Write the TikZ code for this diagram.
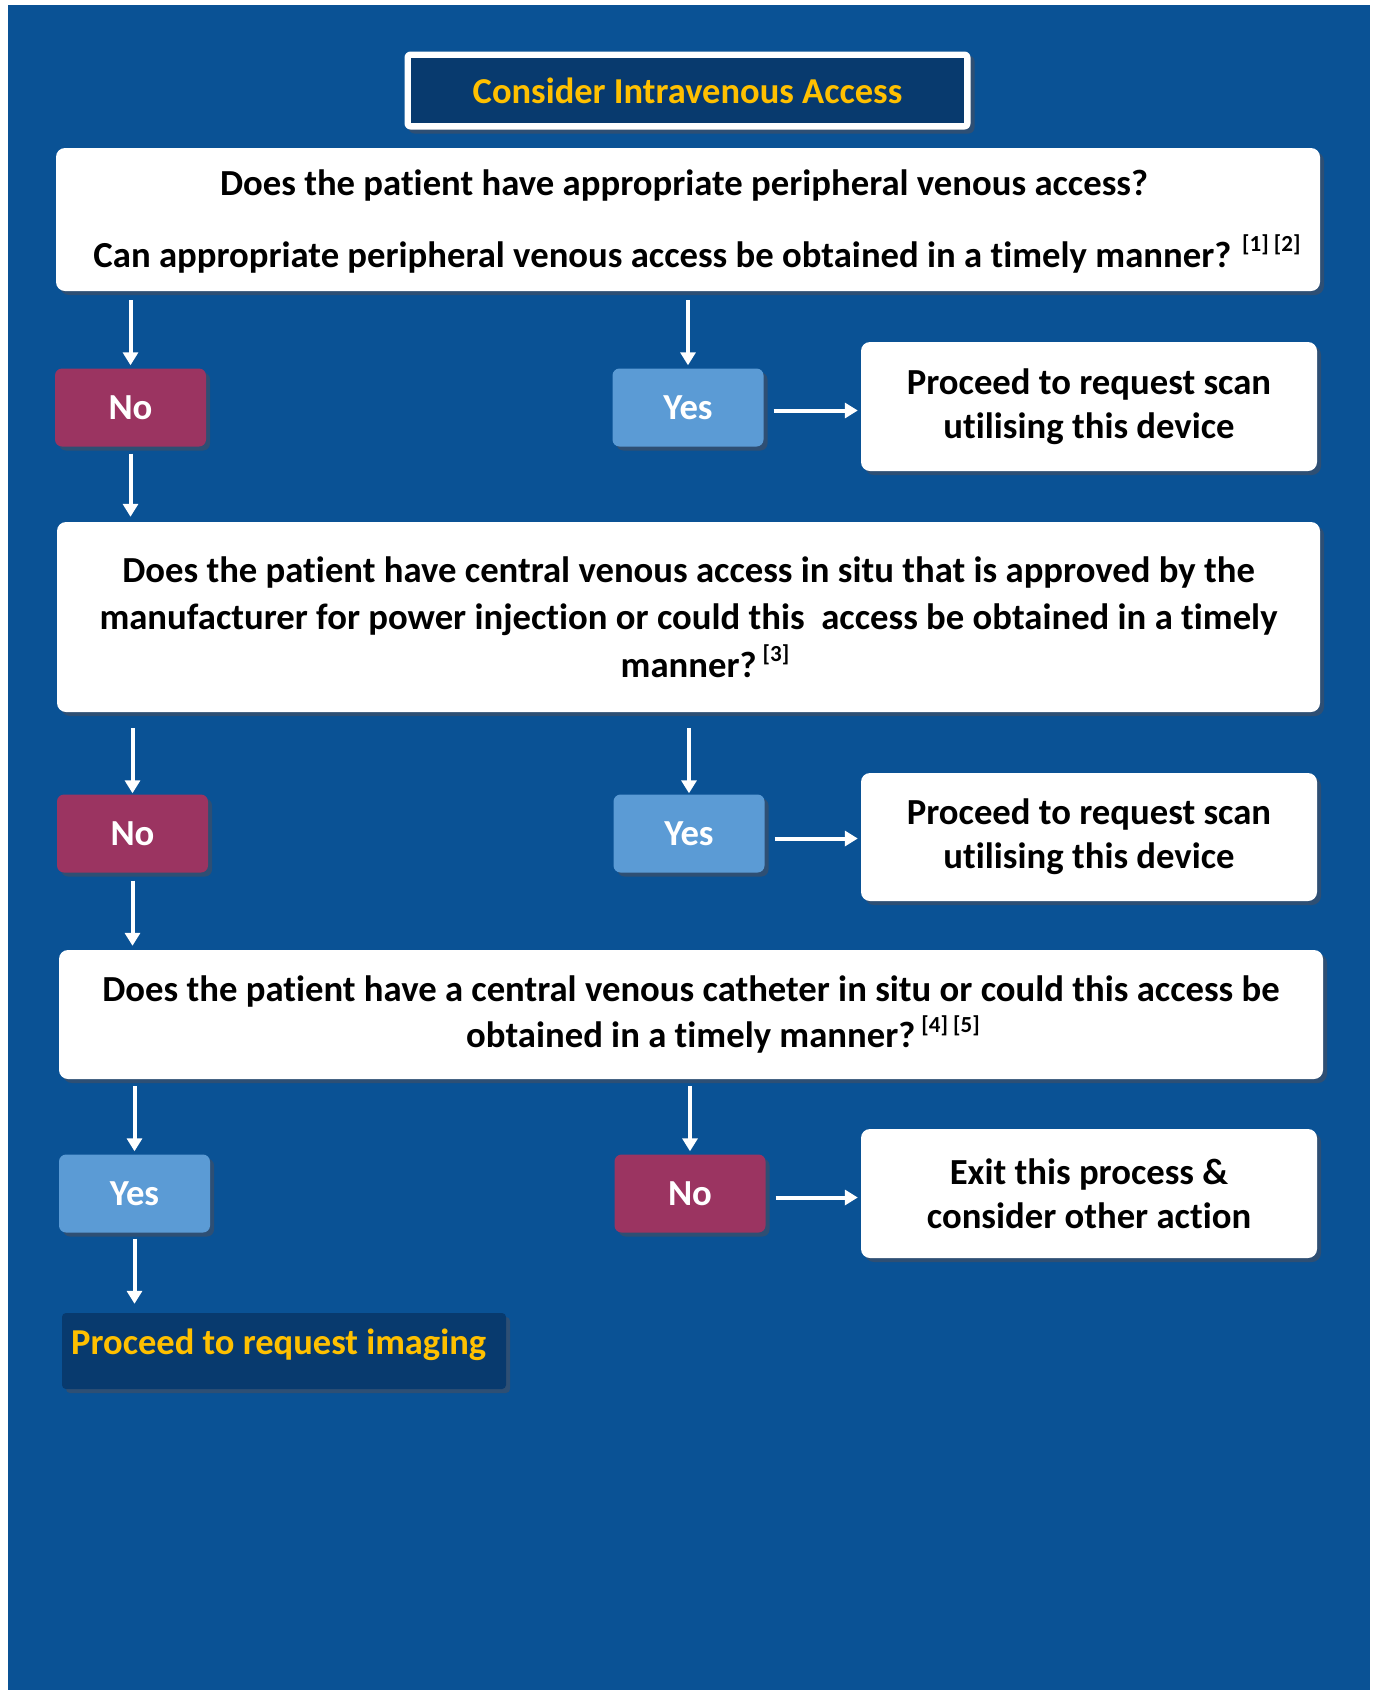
\documentclass[tikz,border=0pt]{standalone}
\usepackage{fontspec}
\setmainfont{Carlito}[Ligatures={NoCommon}]
\usetikzlibrary{arrows.meta,shadows,calc}

\definecolor{bgblue}{HTML}{0A5295}
\definecolor{navy}{HTML}{083A6E}
\definecolor{plum}{HTML}{9B3461}
\definecolor{skyblue}{HTML}{5B9BD5}
\definecolor{shade}{HTML}{2E4F74}
\definecolor{gold}{HTML}{FFC000}

\tikzset{
  x=1pt, y=-1pt,
  boxshadow/.style={drop shadow={shadow xshift=4pt, shadow yshift=-4pt, fill=shade, opacity=1}},
  question/.style={fill=white, rounded corners=9pt, boxshadow, inner sep=0pt,
    align=center, font=\fontsize{36.7}{44}\selectfont\bfseries, text=black},
  answer/.style={rounded corners=7pt, boxshadow, inner sep=0pt,
    minimum width=151pt, minimum height=78pt, text=white,
    font=\fontsize{36.7}{44}\selectfont\bfseries},
  nobox/.style={answer, fill=plum},
  yesbox/.style={answer, fill=skyblue},
  outcome/.style={question, minimum width=456pt, minimum height=129pt,
    font=\fontsize{36.7}{44}\selectfont\bfseries},
  flow/.style={draw=white, line width=4pt,
    -{Triangle[width=15pt,length=13pt]}},
}
\newcommand{\refmark}[1]{\raisebox{0.42em}{\fontsize{23}{23}\selectfont #1}}

\begin{document}
\begin{tikzpicture}
% page and blue panel
\fill[white] (0,0) rectangle (1375,1690);
\fill[bgblue] (8,5) rectangle (1370,1690);

% heading
\node[fill=white, rounded corners=6pt, boxshadow, minimum width=566pt, minimum height=78pt]
  (title) at (687.5,90.5) {};
\node[fill=navy, minimum width=553pt, minimum height=65pt, text=gold,
  font=\fontsize{36.5}{44}\selectfont\bfseries] (titletext) at (title.center) {Consider Intravenous Access};

% first question
\node[question, minimum width=1264pt, minimum height=143pt] (q1) at (688,219.5) {};
\node[font=\fontsize{36.7}{44}\selectfont\bfseries] (q1a) at (684,186) {Does the patient have appropriate peripheral venous access?};
\node[font=\fontsize{36.7}{44}\selectfont\bfseries] (q1b) at (697,254) {Can appropriate peripheral venous access be obtained in a timely manner? \refmark{[1] [2]}};

\node[nobox] (no1) at (130.5,407.5) {No};
\node[yesbox] (yes1) at (688,407.5) {Yes};
\node[outcome] (p1) at (1089,406.5) {Proceed to request scan\\utilising this device};

% second question
\node[question, minimum width=1263pt, minimum height=190pt,
  font=\fontsize{36.7}{47.5}\selectfont\bfseries] (q2) at (688.5,617)
  {Does the patient have central venous access in situ that is approved by the\\
   manufacturer for power injection or could this\ \ access be obtained in a timely\\
   \hspace*{33pt}manner?\,\refmark{[3]}};

\node[nobox] (no2) at (132.5,833.5) {No};
\node[yesbox] (yes2) at (689,833.5) {Yes};
\node[outcome, minimum height=128pt] (p2) at (1089,837) {Proceed to request scan\\utilising this device};

% third question
\node[question, minimum width=1264pt, minimum height=129pt,
  font=\fontsize{36.7}{46}\selectfont\bfseries] (q3) at (691,1014.5)
  {Does the patient have a central venous catheter in situ or could this access be\\
   \hspace*{64pt}obtained in a timely manner?\,\refmark{[4] [5]}};

\node[yesbox] (yes3) at (134.5,1193.5) {Yes};
\node[nobox] (no3) at (690,1193.5) {No};
\node[outcome] (exit) at (1089,1193.5) {Exit this process \&\\consider other action};

% final step
\node[fill=navy, rounded corners=4pt, boxshadow, minimum width=444pt, minimum height=76pt,
  inner sep=0pt] (final) at (284,1351) {};
\node[anchor=west, inner sep=0pt, text=gold, font=\fontsize{36.5}{44}\selectfont\bfseries]
  (finaltext) at (71,1345) {Proceed to request imaging};

% connectors
\draw[flow, shorten <=9pt, shorten >=3pt] (q1.south -| no1) -- (no1.north);
\draw[flow, shorten <=9pt, shorten >=3pt] (q1.south -| yes1) -- (yes1.north);
\draw[flow, shorten <=10pt, shorten >=3pt] ($(yes1.east)+(0,3)$) -- ($(p1.west |- yes1.east)+(0,3)$);
\draw[flow, shorten <=7pt, shorten >=5pt] (no1.south) -- (q2.north -| no1);

\draw[flow, shorten <=16pt, shorten >=1pt] (q2.south -| no2) -- (no2.north);
\draw[flow, shorten <=16pt, shorten >=1pt] (q2.south -| yes2) -- (yes2.north);
\draw[flow, shorten <=10pt, shorten >=3pt] ($(yes2.east)+(0,5)$) -- ($(p2.west |- yes2.east)+(0,5)$);
\draw[flow, shorten <=8pt, shorten >=4pt] (no2.south) -- (q3.north -| no2);

\draw[flow, shorten <=7pt, shorten >=3pt] (q3.south -| yes3) -- (yes3.north);
\draw[flow, shorten <=7pt, shorten >=3pt] (q3.south -| no3) -- (no3.north);
\draw[flow, shorten <=10pt, shorten >=3pt] ($(no3.east)+(0,4)$) -- ($(exit.west |- no3.east)+(0,4)$);
\draw[flow, shorten <=6pt, shorten >=9pt] (yes3.south) -- (final.north -| yes3);
\end{tikzpicture}
\end{document}
